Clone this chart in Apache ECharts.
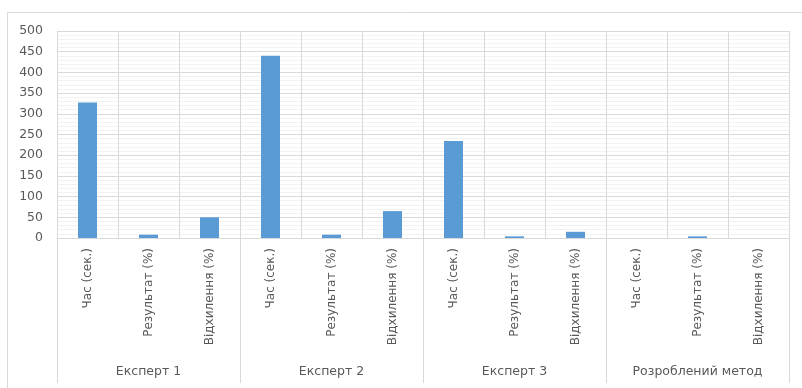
<!DOCTYPE html>
<html>
<head>
<meta charset="utf-8">
<script src="https://cdn.jsdelivr.net/npm/echarts@6/dist/echarts.min.js"></script>
<style>
html,body{margin:0;padding:0;background:#fff;}
#c{width:802px;height:388px;}
</style>
</head>
<body>
<div id="c"></div>
<script>
const groups = ['Експерт 1', 'Експерт 2', 'Експерт 3', 'Розроблений метод'];
const metrics = ['Час (сек.)', 'Результат (%)', 'Відхилення (%)'];
const values = [327, 8, 50, 440, 8, 65, 234, 4, 15, 0, 4, 0];
const yTicks = { min: 0, max: 500, interval: 50 };

const categories = [];
groups.forEach(g => metrics.forEach(m => categories.push(m)));

const font = '"DejaVu Sans", "Open Sans", sans-serif';
const chart = echarts.init(document.getElementById('c'), null, { renderer: 'canvas' });
chart.setOption({
  animation: false,
  backgroundColor: '#fff',
  graphic: [{
    type: 'rect',
    shape: { x: 7.5, y: 12.5, width: 830, height: 420 },
    style: { fill: 'none', stroke: '#d9d9d9', lineWidth: 1 },
    silent: true,
    z: -10
  }],
  grid: { left: 57, right: 13, top: 31, bottom: 150, containLabel: false },
  xAxis: [{
    type: 'category',
    data: categories,
    position: 'bottom',
    axisLine: { show: true, lineStyle: { color: '#d9d9d9', width: 1 } },
    axisTick: { show: false },
    splitLine: { show: true, interval: 0, lineStyle: { color: '#d9d9d9', width: 1 } },
    axisLabel: {
      interval: 0, rotate: 90, margin: 10,
      color: '#595959', fontFamily: font, fontSize: 12
    }
  }, {
    type: 'category',
    data: groups,
    position: 'bottom',
    axisLine: { show: false },
    axisTick: { show: true, interval: 0, length: 145, lineStyle: { color: '#d9d9d9', width: 1 } },
    splitLine: { show: false },
    axisLabel: {
      interval: 0, margin: 127,
      color: '#595959', fontFamily: font, fontSize: 12.5
    }
  }],
  yAxis: {
    type: 'value',
    min: yTicks.min, max: yTicks.max, interval: yTicks.interval,
    axisLine: { show: false },
    axisTick: { show: false },
    minorTick: { show: false, splitNumber: 5 },
    minorSplitLine: { show: true, lineStyle: { color: '#f2f2f2', width: 1 } },
    splitLine: { show: true, lineStyle: { color: '#d9d9d9', width: 1 } },
    axisLabel: { margin: 14, color: '#595959', fontFamily: font, fontSize: 12.5 }
  },
  series: [{
    type: 'bar',
    xAxisIndex: 0,
    data: values,
    barWidth: 19,
    itemStyle: { color: '#5b9bd5' }
  }]
});
</script>
</body>
</html>
